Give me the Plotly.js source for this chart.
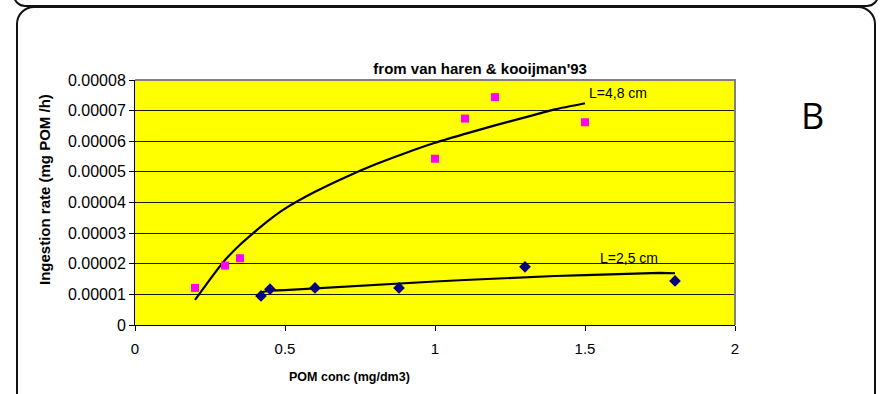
<!DOCTYPE html>
<html>
<head>
<meta charset="utf-8">
<script src="https://cdn.plot.ly/plotly-3.0.1.min.js"></script>
<style>
  html, body { margin: 0; padding: 0; background: #ffffff; width: 881px; height: 394px; overflow: hidden; }
  #frame { position: absolute; left: 16px; top: 6px; width: 860px; height: 500px; border: 2px solid #111; border-radius: 18px; box-sizing: border-box; }
  #prevframe { position: absolute; left: 13px; top: -100px; width: 866px; height: 107px; border: 2px solid #111; border-radius: 12px; box-sizing: border-box; }
  #chart { position: absolute; left: 0; top: 0; width: 881px; height: 394px; }
</style>
</head>
<body>
<div id="prevframe"></div>
<div id="frame"></div>
<div id="chart"></div>
<script>
const bigX = [0.2, 0.3, 0.35, 1.0, 1.1, 1.2, 1.5];
const bigY = [1.21e-5, 1.94e-5, 2.18e-5, 5.43e-5, 6.74e-5, 7.44e-5, 6.62e-5];

const smallX = [0.42, 0.45, 0.6, 0.88, 1.3, 1.8];
const smallY = [0.95e-5, 1.17e-5, 1.21e-5, 1.21e-5, 1.90e-5, 1.44e-5];

// Fitted curves
const fitBigX = [0.2, 0.23, 0.26, 0.3, 0.35, 0.4, 0.45, 0.5, 0.6, 0.7, 0.8, 0.9, 1.0, 1.1, 1.2, 1.3, 1.4, 1.5];
const fitBigY = [0.82e-5, 1.22e-5, 1.62e-5, 2.12e-5, 2.62e-5, 3.05e-5, 3.45e-5, 3.8e-5, 4.35e-5, 4.82e-5, 5.24e-5, 5.61e-5, 5.95e-5, 6.24e-5, 6.52e-5, 6.78e-5, 7.04e-5, 7.24e-5];

const fitSmallX = [0.42, 0.45, 0.5, 0.6, 0.7, 0.8, 0.9, 1.0, 1.1, 1.2, 1.3, 1.4, 1.5, 1.6, 1.7, 1.75, 1.8];
const fitSmallY = [1.07e-5, 1.12e-5, 1.14e-5, 1.2e-5, 1.25e-5, 1.3e-5, 1.36e-5, 1.42e-5, 1.47e-5, 1.52e-5, 1.56e-5, 1.6e-5, 1.63e-5, 1.66e-5, 1.68e-5, 1.70e-5, 1.69e-5];

const xTicks = [0, 0.5, 1, 1.5, 2];
const xTickText = ['0', '0.5', '1', '1.5', '2'];
const yTicks = [0, 1e-5, 2e-5, 3e-5, 4e-5, 5e-5, 6e-5, 7e-5, 8e-5];
const yTickText = ['0', '0.00001', '0.00002', '0.00003', '0.00004', '0.00005', '0.00006', '0.00007', '0.00008'];

const F = 'Arial, "Liberation Sans", sans-serif';

const traces = [
  { x: fitBigX, y: fitBigY, mode: 'lines', line: { color: '#000000', width: 2.2, shape: 'spline', smoothing: 0.6 }, hoverinfo: 'skip' },
  { x: fitSmallX, y: fitSmallY, mode: 'lines', line: { color: '#000000', width: 2.2 }, hoverinfo: 'skip' },
  { x: bigX, y: bigY, mode: 'markers', marker: { symbol: 'square', size: 8, color: '#FF00FF' } },
  { x: smallX, y: smallY, mode: 'markers', marker: { symbol: 'diamond', size: 9, color: '#000080' } }
];

const layout = {
  width: 881, height: 394,
  margin: { l: 135, r: 146, t: 80, b: 69 },
  paper_bgcolor: 'rgba(0,0,0,0)',
  plot_bgcolor: '#FFFF00',
  showlegend: false,
  title: { text: "<b>from van haren &amp; kooijman'93</b>", font: { family: F, size: 15, color: '#000' }, x: 0.545, xref: 'container', xanchor: 'center', y: 0.825, yref: 'container', yanchor: 'middle' },
  xaxis: {
    range: [0, 2], tickvals: xTicks, ticktext: xTickText,
    showgrid: false, zeroline: false, showline: true, linecolor: '#000', linewidth: 1,
    ticks: 'outside', ticklen: 5, tickcolor: '#000', ticklabelstandoff: 5,
    tickfont: { family: F, size: 15, color: '#000' }
  },
  yaxis: {
    range: [0, 8e-5], tickvals: yTicks, ticktext: yTickText,
    showgrid: true, gridcolor: '#1a1a00', gridwidth: 1, zeroline: false,
    showline: true, linecolor: '#000', linewidth: 1,
    ticks: 'outside', ticklen: 5, tickcolor: '#000',
    tickfont: { family: F, size: 16, color: '#000' }
  },
  shapes: [
    { type: 'path', xref: 'paper', yref: 'paper', path: 'M0,1 L1,1 L1,0', line: { color: '#808080', width: 2 }, layer: 'above' }
  ],
  annotations: [
    { text: 'L=4,8 cm', xref: 'paper', yref: 'paper', x: (587 - 135) / 600, y: (325 - 93) / 245, xanchor: 'left', yanchor: 'middle', showarrow: false, font: { family: F, size: 14, color: '#000' } },
    { text: 'L=2,5 cm', xref: 'paper', yref: 'paper', x: (598 - 135) / 600, y: (325 - 258) / 245, xanchor: 'left', yanchor: 'middle', showarrow: false, font: { family: F, size: 14, color: '#000' } },
    { text: 'B', xref: 'paper', yref: 'paper', x: (813 - 135) / 600, y: (325 - 115) / 245, xanchor: 'center', yanchor: 'middle', showarrow: false, font: { family: '"Open Sans", sans-serif', size: 36, color: '#000' } },
    { text: '<b>Ingestion rate (mg POM /h)</b>', xref: 'paper', yref: 'paper', x: (44 - 135) / 600, y: (325 - 190) / 245, xanchor: 'center', yanchor: 'middle', textangle: -90, showarrow: false, font: { family: F, size: 15, color: '#000' } },
    { text: '<b>POM conc (mg/dm3)</b>', xref: 'paper', yref: 'paper', x: (349 - 135) / 600, y: (325 - 377) / 245, xanchor: 'center', yanchor: 'middle', showarrow: false, font: { family: F, size: 12.5, color: '#000' } }
  ]
};

Plotly.newPlot('chart', traces, layout, { displayModeBar: false, staticPlot: true });
</script>
</body>
</html>
